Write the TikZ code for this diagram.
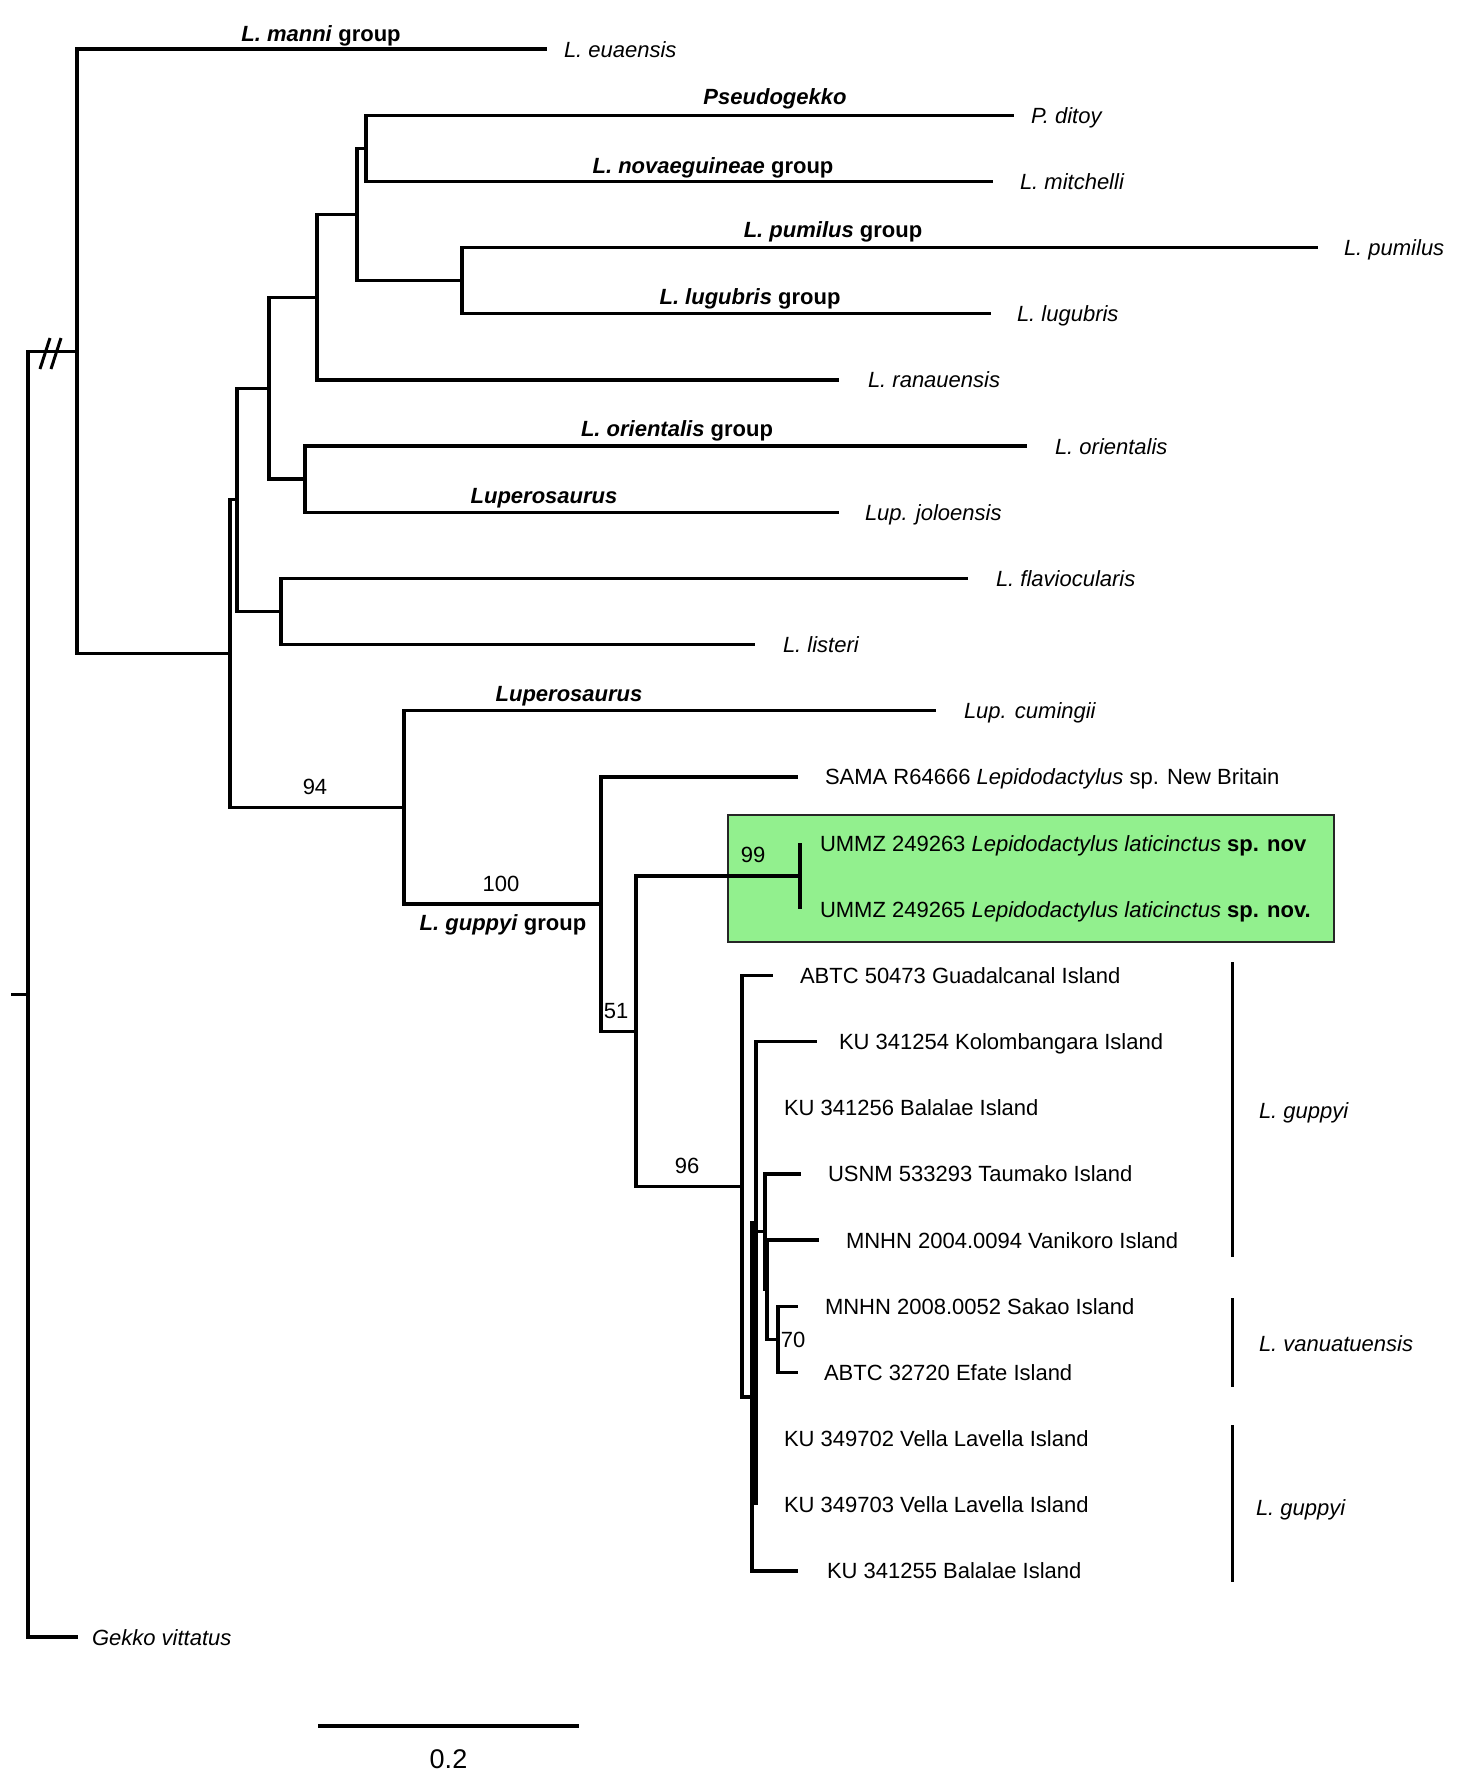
\documentclass[tikz,border=0pt]{standalone}
\usepackage{fontspec}
\setmainfont{Liberation Sans}
\definecolor{boxgreen}{RGB}{146,240,142}
\newcommand\myfs{\fontsize{11}{13}\selectfont}
\begin{document}
\begin{tikzpicture}[x=0.5pt,y=-0.5pt,
  every node/.style={inner sep=0pt,outer sep=0pt,font=\myfs},
  br/.style={line width=1.65pt,line join=miter,line cap=butt},
  brk/.style={line width=1.5pt},
  leaf/.style={anchor=base west,font=\myfs\itshape},
  isl/.style={anchor=base west},
  grp/.style={anchor=base,font=\myfs\bfseries},
  bs/.style={anchor=center}]
\useasboundingbox (0,0) rectangle (1470,1785);
% highlight box
\path[draw=black!85,line width=0.9pt,fill=boxgreen] (728,815) rectangle (1334,942);

% internal nodes
\coordinate (nRoot) at (28,994.2);
\coordinate (rootstub) at (11,994.2);
\coordinate (nA) at (77,351.3);
\coordinate (nB) at (230,653.6);
\coordinate (nC) at (237,499.8);
\coordinate (nD) at (269,388.2);
\coordinate (n317) at (317,297.2);
\coordinate (n357) at (357,214.4);
\coordinate (n366) at (366,148.25);
\coordinate (n462) at (462,280.6);
\coordinate (n305) at (305,479.1);
\coordinate (n281) at (281,611.5);
\coordinate (nE) at (404,807.4);
\coordinate (nF) at (601,904);
\coordinate (nG) at (636,1031.2);
\coordinate (nU) at (800,876.1);
\coordinate (nH) at (742,1186.2);
\coordinate (nI) at (752,1397);
\coordinate (nJ) at (756,1223);
\coordinate (nK) at (765,1231.8);
\coordinate (nK2) at (767,1289.7);
\coordinate (nL) at (778,1339.3);

% branch ends
\coordinate (eEua) at (547,49);
\coordinate (eDit) at (1014,115.2);
\coordinate (eMit) at (993,181.3);
\coordinate (ePum) at (1318,247.5);
\coordinate (eLug) at (991,313.7);
\coordinate (eRan) at (839,379.9);
\coordinate (eOri) at (1027,446);
\coordinate (eJol) at (839,512.2);
\coordinate (eFla) at (968,578.4);
\coordinate (eLis) at (755,644.5);
\coordinate (eCum) at (936,710.7);
\coordinate (eSama) at (798,776.9);
\coordinate (eU1) at (800,843);
\coordinate (eU2) at (800,909.2);
\coordinate (eAbtc) at (773,975.4);
\coordinate (eKu54) at (817,1041.6);
\coordinate (eKu56) at (756,1107.7);
\coordinate (eUsnm) at (801,1173.9);
\coordinate (eVan) at (819,1240.1);
\coordinate (eSak) at (798,1306.2);
\coordinate (eEfa) at (798,1372.4);
\coordinate (eKu02) at (756,1438.6);
\coordinate (eKu03) at (756,1504.7);
\coordinate (eKu55) at (798,1570.9);
\coordinate (eGek) at (78,1637.1);

% tree
\draw[br] (rootstub) -- (nRoot);
\draw[br] (nRoot) |- (nA);
\draw[br] (nRoot) |- (eGek);
\draw[br] (nA) |- (eEua);
\draw[br] (nA) |- (nB);
\draw[br] (nB) |- (nC);
\draw[br] (nB) |- (nE);
\draw[br] (nC) |- (nD);
\draw[br] (nC) |- (n281);
\draw[br] (nD) |- (n317);
\draw[br] (nD) |- (n305);
\draw[br] (n317) |- (n357);
\draw[br] (n317) |- (eRan);
\draw[br] (n357) |- (n366);
\draw[br] (n357) |- (n462);
\draw[br] (n366) |- (eDit);
\draw[br] (n366) |- (eMit);
\draw[br] (n462) |- (ePum);
\draw[br] (n462) |- (eLug);
\draw[br] (n305) |- (eOri);
\draw[br] (n305) |- (eJol);
\draw[br] (n281) |- (eFla);
\draw[br] (n281) |- (eLis);
\draw[br] (nE) |- (eCum);
\draw[br] (nE) |- (nF);
\draw[br] (nF) |- (eSama);
\draw[br] (nF) |- (nG);
\draw[br] (nG) |- (nU);
\draw[br] (nG) |- (nH);
\draw[br] (nU) -- (eU1);
\draw[br] (nU) -- (eU2);
\draw[br] (nH) |- (eAbtc);
\draw[br] (nH) |- (nI);
\draw[br] (nI) |- (nJ);
\draw[br] (nI) |- (eKu55);
\draw[br] (nJ) |- (eKu54);
\draw[br] (nJ) -- (eKu56);
\draw[br] (nJ) -- (eKu03);
\draw[br] (nJ) |- (nK);
\draw[br] (nK) |- (eUsnm);
\draw[br] (nK) |- (nK2);
\draw[br] (nK2) |- (eVan);
\draw[br] (nK2) |- (nL);
\draw[br] (nL) |- (eSak);
\draw[br] (nL) |- (eEfa);

% broken-branch marks
\coordinate (m1a) at (50,338); \coordinate (m1b) at (40,369);
\coordinate (m2a) at (61,338); \coordinate (m2b) at (51,369);
\draw[line width=1.5pt] (m1a) -- (m1b);
\draw[line width=1.5pt] (m2a) -- (m2b);

% leaf labels
\node[leaf] (lEua) at (564,57) {L. euaensis};
\node[leaf] (lDit) at (1031,123.2) {P. ditoy};
\node[leaf] (lMit) at (1020,189.3) {L. mitchelli};
\node[leaf] (lPum) at (1344,255.5) {L. pumilus};
\node[leaf] (lLug) at (1017,321.7) {L. lugubris};
\node[leaf] (lRan) at (868,387.9) {L. ranauensis};
\node[leaf] (lOri) at (1055,454) {L. orientalis};
\node[leaf] (lJol) at (865,520.2) {Lup. joloensis};
\node[leaf] (lFla) at (996,586.4) {L. flaviocularis};
\node[leaf] (lLis) at (783,652.5) {L. listeri};
\node[leaf] (lCum) at (964,718.7) {Lup. cumingii};
\node[leaf] (lGek) at (92,1645.1) {Gekko vittatus};
\node[isl] (lSama) at (825,784.9) {SAMA R64666 \textit{Lepidodactylus} sp. New Britain};
\node[isl] (lU1) at (820,851) {UMMZ 249263 \textit{Lepidodactylus laticinctus} \textbf{sp. nov}};
\node[isl] (lU2) at (820,917.2) {UMMZ 249265 \textit{Lepidodactylus laticinctus} \textbf{sp. nov.}};
\node[isl] (lAbtc) at (800,983.4) {ABTC 50473 Guadalcanal Island};
\node[isl] (lKu54) at (839,1049.6) {KU 341254 Kolombangara Island};
\node[isl] (lKu56) at (784,1115.7) {KU 341256 Balalae Island};
\node[isl] (lUsnm) at (828,1181.9) {USNM 533293 Taumako Island};
\node[isl] (lVan) at (846,1248.1) {MNHN 2004.0094 Vanikoro Island};
\node[isl] (lSak) at (825,1314.2) {MNHN 2008.0052 Sakao Island};
\node[isl] (lEfa) at (824,1380.4) {ABTC 32720 Efate Island};
\node[isl] (lKu02) at (784,1446.6) {KU 349702 Vella Lavella Island};
\node[isl] (lKu03) at (784,1512.7) {KU 349703 Vella Lavella Island};
\node[isl] (lKu55) at (827,1578.9) {KU 341255 Balalae Island};

% group labels
\node[grp] (gManni) at (321,41) {\textit{L. manni} group};
\node[grp] (gPseu) at (775,104) {\textit{Pseudogekko}};
\node[grp] (gNova) at (713,173) {\textit{L. novaeguineae} group};
\node[grp] (gPum) at (833,237) {\textit{L. pumilus} group};
\node[grp] (gLug) at (750,304) {\textit{L. lugubris} group};
\node[grp] (gOri) at (677,436) {\textit{L. orientalis} group};
\node[grp] (gLup1) at (544,503) {\textit{Luperosaurus}};
\node[grp] (gLup2) at (569,701) {\textit{Luperosaurus}};
\node[grp] (gGup) at (503,930) {\textit{L. guppyi} group};

% support values
\node[bs] (s94) at (315,787) {94};
\node[bs] (s100) at (501,884) {100};
\node[bs] (s51) at (616,1011) {51};
\node[bs] (s96) at (687,1166) {96};
\node[bs] (s99) at (753,855) {99};
\node[bs] (s70) at (793,1340) {70};

% species brackets
\coordinate (b1a) at (1232,962); \coordinate (b1b) at (1232,1257);
\coordinate (b2a) at (1232,1298); \coordinate (b2b) at (1232,1387);
\coordinate (b3a) at (1232,1425); \coordinate (b3b) at (1232,1582);
\draw[brk] (b1a) -- (b1b);
\draw[brk] (b2a) -- (b2b);
\draw[brk] (b3a) -- (b3b);
\node[leaf] (sp1) at (1259,1118) {L. guppyi};
\node[leaf] (sp2) at (1259,1351) {L. vanuatuensis};
\node[leaf] (sp3) at (1256,1515) {L. guppyi};

% scale bar
\coordinate (sb1) at (318,1726);
\coordinate (sb2) at (579,1726);
\draw[line width=1.65pt] (sb1) -- (sb2);
\node[bs,font=\fontsize{13.5}{16}\selectfont] (sbl) at (448.5,1759) {0.2};
\end{tikzpicture}
\end{document}
